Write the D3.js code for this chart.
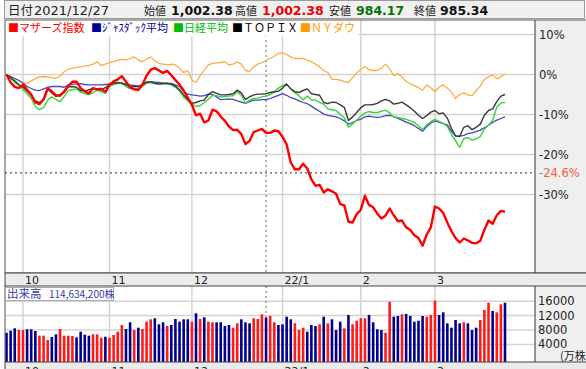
<!DOCTYPE html>
<html><head><meta charset="utf-8">
<script src="https://cdn.jsdelivr.net/npm/d3@7"></script>
<style>body{margin:0;background:#fff;}svg{display:block;}</style>
</head><body>
<script>
// ---- data (percent change from first day, trading-day index 0..121) ----
const monthTickIdx = [4, 25, 45, 67, 86, 104];
const monthLabels = ["10", "11", "12", "22/1", "2", "3"];
const cursorIdx = 63;            // 2021/12/27
const markLevel = -24.6;
const pctTicks = [10, 0, -10, -20, -30];
const volTicks = [4000, 8000, 12000, 16000];

const mothers = [0,-2.0,-3.1,-3.4,-2.6,-3.8,-5.0,-7.0,-7.4,-6.2,
 -3.5,-4.2,-5.2,-5.3,-4.2,-2.9,-1.8,-1.8,-3.4,-4.2,
 -4.7,-3.4,-3.7,-3.6,-4.3,-2.6,-1.7,-1.2,-0.4,-1.8,
 -3.2,-3.7,-3.9,-2.5,-0.3,1.2,1.6,1.0,0.4,0.9,
 -0.2,-1.4,-2.5,-4.0,-5.8,-7.6,-10.2,-9.8,-12.0,-11.5,
 -8.8,-9.2,-10.5,-11.6,-13.0,-13.9,-13.8,-14.9,-17.4,-16.6,
 -14.4,-14.0,-13.6,-14.6,-14.6,-14.0,-14.2,-15.6,-17.5,-22.0,
 -23.7,-23.7,-22.3,-23.5,-26.2,-27.8,-27.6,-29.5,-28.7,-29.2,
 -29.8,-32.4,-32.7,-36.8,-37.0,-34.9,-33.8,-30.3,-32.6,-33.2,
 -34.8,-36.0,-35.3,-33.5,-35.2,-36.7,-36.5,-38.2,-38.9,-40.2,
 -40.9,-42.8,-40.0,-38.2,-33.0,-33.5,-34.6,-37.0,-39.2,-40.9,
 -42.0,-41.0,-41.5,-42.1,-42.2,-41.6,-38.8,-36.5,-37.3,-35.2,
 -34.1,-34.3];
const jasdaq = [0,-0.5,-1.0,-1.5,-2.2,-3.0,-3.5,-3.9,-4.0,-3.6,
 -3.2,-3.0,-3.0,-3.0,-3.2,-2.6,-2.4,-2.4,-2.3,-2.5,
 -2.6,-2.6,-2.6,-2.6,-2.5,-2.4,-2.3,-2.2,-2.2,-2.4,
 -2.6,-2.7,-2.9,-2.5,-1.9,-1.8,-1.9,-2.0,-2.1,-2.2,
 -2.2,-2.6,-3.0,-4.3,-4.9,-5.1,-5.2,-5.4,-5.3,-4.9,
 -5.0,-5.6,-6.3,-6.2,-6.1,-6.2,-6.6,-6.9,-7.2,-6.8,
 -6.4,-6.4,-6.3,-6.3,-6.0,-5.6,-5.2,-4.8,-5.2,-5.8,
 -6.1,-6.6,-7.0,-7.3,-7.9,-8.6,-9.2,-9.9,-10.2,-10.4,
 -10.6,-11.0,-11.6,-12.4,-12.0,-11.5,-11.2,-10.6,-10.4,-10.6,
 -10.7,-10.6,-10.3,-10.2,-10.5,-11.0,-11.4,-11.9,-12.3,-12.8,
 -13.5,-14.2,-13.0,-12.2,-11.6,-12.0,-12.3,-12.6,-14.2,-15.3,
 -15.4,-15.2,-14.8,-14.6,-14.3,-13.9,-13.3,-12.7,-12.0,-11.4,
 -11.0,-10.6];
const nikkei = [0,-1.0,-2.0,-2.8,-3.8,-4.8,-6.0,-8.0,-8.8,-8.3,
 -6.4,-5.6,-6.2,-6.8,-5.5,-4.0,-3.8,-3.6,-4.4,-4.8,
 -5.0,-4.5,-3.9,-4.3,-4.7,-3.0,-2.5,-2.2,-2.3,-3.0,
 -3.5,-3.5,-3.5,-3.0,-2.2,-2.0,-2.3,-2.3,-2.2,-2.4,
 -2.6,-3.2,-4.1,-5.6,-6.6,-7.4,-8.0,-7.8,-7.0,-6.2,
 -5.2,-5.3,-5.6,-5.5,-5.4,-5.3,-4.3,-5.2,-7.2,-6.4,
 -6.0,-5.9,-5.6,-5.4,-5.0,-4.4,-3.4,-2.8,-2.4,-3.6,
 -4.6,-5.3,-6.4,-5.4,-6.3,-6.4,-7.0,-7.4,-8.6,-8.8,
 -9.0,-10.0,-10.8,-13.2,-12.4,-11.4,-10.4,-9.6,-9.3,-9.5,
 -9.5,-9.2,-8.9,-9.6,-10.6,-10.7,-11.0,-11.2,-11.6,-12.0,
 -12.8,-13.8,-12.6,-11.8,-11.2,-11.7,-12.2,-13.0,-15.0,-16.6,
 -18.2,-16.0,-15.8,-16.4,-16.1,-15.5,-13.6,-12.6,-11.5,-8.2,
 -7.1,-7.0];
const topix = [0,-0.8,-1.6,-2.5,-3.2,-4.2,-5.2,-6.6,-7.0,-6.4,
 -3.6,-4.6,-5.5,-5.0,-4.5,-3.1,-3.0,-3.2,-4.0,-4.2,
 -3.8,-3.5,-3.8,-3.8,-3.3,-2.5,-2.2,-2.0,-2.1,-2.6,
 -3.0,-3.0,-3.0,-2.6,-1.9,-1.8,-2.2,-2.4,-2.3,-2.2,
 -2.4,-2.9,-3.8,-5.1,-6.2,-7.2,-7.0,-6.6,-6.4,-5.0,
 -4.3,-4.7,-5.1,-5.1,-5.0,-4.8,-3.9,-4.6,-6.2,-5.6,
 -5.1,-4.9,-4.9,-4.8,-4.5,-4.3,-4.2,-3.4,-2.4,-3.6,
 -4.3,-4.5,-4.0,-3.6,-4.8,-5.0,-5.2,-7.0,-7.3,-6.9,
 -7.0,-7.6,-8.2,-11.5,-10.6,-9.5,-8.3,-7.6,-7.6,-7.5,
 -7.2,-6.6,-6.2,-6.6,-7.4,-7.2,-6.9,-7.6,-8.3,-9.2,
 -10.2,-11.0,-10.3,-9.4,-9.0,-9.8,-9.6,-10.9,-13.5,-15.4,
 -15.5,-13.2,-12.8,-13.8,-13.2,-12.4,-10.2,-9.0,-8.6,-6.8,
 -5.4,-5.0];
const nydow = [0,-0.6,-1.0,-1.5,-2.0,-2.2,-1.6,-1.1,-0.6,-0.5,
 -0.6,-0.8,-1.0,-0.4,0.7,1.3,1.6,1.8,1.9,2.1,
 2.3,2.6,3.2,2.2,2.6,3.0,3.2,3.6,3.8,3.6,
 4.0,4.4,3.6,3.2,3.8,4.4,3.4,2.8,2.6,2.4,
 2.6,2.4,1.6,0.5,1.0,-1.4,-2.0,-0.3,1.1,2.4,
 2.8,2.9,3.0,3.2,2.4,2.6,3.2,2.6,1.0,0.8,
 1.9,2.6,3.0,3.5,4.0,4.5,5.3,5.4,5.0,4.4,
 4.0,4.0,4.0,3.6,3.2,2.6,1.9,1.0,0.5,-1.2,
 -1.2,-1.4,-1.8,-2.0,-0.8,0.4,1.3,2.0,1.2,1.0,
 1.0,1.6,2.6,1.4,-0.3,0.2,-0.6,-1.7,-2.3,-2.8,
 -3.3,-3.9,-2.6,-3.3,-4.3,-3.2,-2.6,-3.4,-4.4,-6.0,
 -5.0,-4.6,-5.1,-5.3,-4.0,-2.9,-1.2,-0.6,-0.1,-1.1,
 -0.6,0.2];
// volume (万株) and candle direction (1 = up/red, 0 = down/blue)
const volume = [7250,7800,8470,8000,8000,8200,8200,7720,6420,6420,
 5220,6060,6810,8280,6420,6420,6330,5970,7530,6700,
 6420,6810,6810,5860,6140,5860,6610,7530,9390,8280,
 10140,8000,8640,8280,10310,10970,11250,9580,10140,9110,
 9390,11060,10310,10970,10970,10310,12640,11060,11530,10310,
 10140,10140,10140,9110,9390,8640,9860,10970,10140,9860,
 11250,11060,12360,11420,11890,10140,9390,9580,11700,10970,
 9860,8000,8640,7530,9390,9110,9580,11700,9860,10970,
 8000,10310,8470,12170,9580,10580,11250,11250,12170,10140,
 8200,8000,7250,15860,11700,11890,12360,12450,11890,10310,
 10580,11890,11700,12170,16140,12170,12920,9860,8640,10780,
 9860,10140,9860,8000,8640,10780,13560,15580,13280,12920,
 15140,15580];
const volUp = [0,0,0,1,1,0,0,0,1,1,
 1,0,0,1,1,1,1,0,0,0,
 0,1,1,1,0,1,1,1,1,0,
 0,1,0,1,1,1,0,0,0,1,
 0,0,0,0,0,1,0,1,0,1,
 1,0,0,0,0,1,1,0,0,0,
 1,1,1,0,1,1,0,0,0,0,
 1,1,1,0,0,0,1,0,1,0,
 0,0,1,0,1,1,1,1,0,0,
 0,0,1,1,0,0,1,0,0,0,
 0,0,1,1,1,0,0,0,0,0,
 0,1,0,0,0,1,1,1,0,1,
 1,0];

const seriesNames = ["マザーズ指数", "ｼﾞｬｽﾀﾞｯｸ平均", "日経平均", "ＴＯＰＩＸ", "ＮＹダウ"];
const seriesColors = ["#ff0000", "#000099", "#00bb00", "#000000", "#ff9900"];
const lineColors = ["#ff0000", "#4646c0", "#3ad23a", "#3a3a3a", "#ffab40"];

const header = {date: "2021/12/27", open: "1,002.38", high: "1,002.38", low: "984.17", close: "985.34"};
const volLabel = "114,634,200株";

// ---- drawing ----
const W = 586, H = 369;
const svg = d3.select("body").append("svg").attr("width", W).attr("height", H);
const CJK = "'Noto Sans CJK JP', sans-serif";
const NUM = "'DejaVu Sans', sans-serif";

const L = 5, R = 535, T = 20, B = 273, VT = 286, VB = 362;

const x = d3.scaleLinear().domain([0, 121]).range([6.5, 505]);
const y = d3.scaleLinear().domain([10, -30]).range([34.5, 194.5]);
const yv = d3.scaleLinear().domain([0, 16000]).range([358.8, 301.2]);

// header
svg.append("rect").attr("x", 4.5).attr("y", 0.5).attr("width", 580).attr("height", 18)
  .attr("fill", "#f0f0f0").attr("stroke", "#9a9a9a");
const ht = (tx, s, o) => svg.append("text").attr("x", tx).attr("y", 15).text(s)
  .attr("font-family", o.f).attr("font-size", o.s).attr("font-weight", o.b ? "bold" : "normal").attr("fill", o.c || "#222");
ht(8, "日付", {f: CJK, s: 12.5});
ht(34, header.date, {f: NUM, s: 13});
ht(144, "始値", {f: CJK, s: 11});
ht(171, header.open, {f: NUM, s: 12.5, b: 1, c: "#111"});
ht(235, "高値", {f: CJK, s: 11});
ht(262, header.high, {f: NUM, s: 12.5, b: 1, c: "#ee0000"});
ht(329, "安値", {f: CJK, s: 11});
ht(356, header.low, {f: NUM, s: 12.5, b: 1, c: "#0a700a"});
ht(414, "終値", {f: CJK, s: 11});
ht(440, header.close, {f: NUM, s: 12.5, b: 1, c: "#111"});

// panels backgrounds
svg.append("rect").attr("x", L).attr("y", T).attr("width", R - L).attr("height", B - T).attr("fill", "#fff");
svg.append("rect").attr("x", R).attr("y", T).attr("width", W - R).attr("height", B - T).attr("fill", "#efefef");
svg.append("rect").attr("x", R).attr("y", VT).attr("width", W - R).attr("height", VB - VT).attr("fill", "#efefef");

const grid = svg.append("g").attr("stroke", "#d4d4d4").attr("stroke-width", 1.5);
pctTicks.forEach(t => grid.append("line").attr("x1", L).attr("x2", R).attr("y1", y(t)).attr("y2", y(t)));
monthTickIdx.forEach(i => {
  grid.append("line").attr("x1", x(i)).attr("x2", x(i)).attr("y1", T).attr("y2", B);
  grid.append("line").attr("x1", x(i)).attr("x2", x(i)).attr("y1", VT).attr("y2", VB);
});
volTicks.forEach(t => grid.append("line").attr("x1", L).attr("x2", R).attr("y1", yv(t)).attr("y2", yv(t)));

// dotted reference lines
svg.append("line").attr("x1", L).attr("x2", R).attr("y1", y(markLevel)).attr("y2", y(markLevel))
  .attr("stroke", "#555").attr("stroke-dasharray", "2,3").attr("stroke-width", 1.2);
[[T, B], [VT, VB]].forEach(([a, b]) => svg.append("line").attr("x1", x(cursorIdx)).attr("x2", x(cursorIdx))
  .attr("y1", a).attr("y2", b).attr("stroke", "#666").attr("stroke-dasharray", "2,3").attr("stroke-width", 1));

// lines
const seriesData = [mothers, jasdaq, nikkei, topix, nydow];
const lineGen = d3.line().x((d, i) => x(i)).y(d => y(d));
const drawOrder = [4, 1, 2, 3, 0];
const widths = [2.4, 1.3, 1.4, 1.4, 1.3];
drawOrder.forEach(k => svg.append("path").datum(seriesData[k]).attr("d", lineGen)
  .attr("fill", "none").attr("stroke", lineColors[k]).attr("stroke-width", widths[k]).attr("stroke-linejoin", "round"));

// legend (white backing)
svg.append("rect").attr("x", L + 0.5).attr("y", T + 0.5).attr("width", 353).attr("height", 16).attr("fill", "#fff");
const legendX = [8, 91, 173, 232, 300];
seriesNames.forEach((n, k) => {
  svg.append("text").attr("x", legendX[k]).attr("y", 32).text("■" + n)
    .attr("font-family", CJK).attr("font-size", 11).attr("fill", seriesColors[k]);
});

// volume bars
svg.append("g").selectAll("rect").data(volume).join("rect")
  .attr("x", (d, i) => x(i) - 1.3).attr("width", 2.6)
  .attr("y", d => yv(d)).attr("height", d => VB - yv(d))
  .attr("fill", (d, i) => volUp[i] ? "#ff1a1a" : "#00008c");

// panel borders
svg.append("rect").attr("x", L).attr("y", T).attr("width", W - L + 2).attr("height", B - T)
  .attr("fill", "none").attr("stroke", "#555");
svg.append("line").attr("x1", R).attr("x2", R).attr("y1", T).attr("y2", B).attr("stroke", "#333");
svg.append("line").attr("x1", R).attr("x2", R).attr("y1", VT).attr("y2", VB).attr("stroke", "#333");
svg.append("line").attr("x1", L).attr("x2", L).attr("y1", VT).attr("y2", VB).attr("stroke", "#555");

// x-axis strips
svg.append("rect").attr("x", L).attr("y", B).attr("width", W - L + 2).attr("height", VT - B)
  .attr("fill", "#ebebeb").attr("stroke", "#444");
svg.append("rect").attr("x", L).attr("y", VB).attr("width", W - L + 2).attr("height", 10)
  .attr("fill", "#ebebeb").attr("stroke", "#444");
monthTickIdx.forEach((i, k) => {
  svg.append("text").attr("x", x(i) + 2).attr("y", 283.5).text(monthLabels[k])
    .attr("font-family", NUM).attr("font-size", 11).attr("fill", "#222");
  svg.append("text").attr("x", x(i) + 2).attr("y", 375).text(monthLabels[k])
    .attr("font-family", NUM).attr("font-size", 11).attr("fill", "#222");
});

// right axis labels
pctTicks.forEach(t => svg.append("text").attr("x", 539).attr("y", y(t)).attr("dy", "0.35em")
  .text(t + "%").attr("font-family", NUM).attr("font-size", 11.5).attr("fill", "#222"));
svg.append("text").attr("x", 539).attr("y", y(markLevel)).attr("dy", "0.35em").text(markLevel + "%")
  .attr("font-family", NUM).attr("font-size", 11.5).attr("fill", "#f0603c");
volTicks.forEach(t => svg.append("text").attr("x", 538).attr("y", yv(t)).attr("dy", "0.35em")
  .text(t).attr("font-family", NUM).attr("font-size", 11.5).attr("fill", "#222"));
svg.append("text").attr("x", 560).attr("y", 360).text("(万株")
  .attr("font-family", CJK).attr("font-size", 11).attr("fill", "#222");

// volume label box
svg.append("rect").attr("x", 5.5).attr("y", 287.5).attr("width", 108).attr("height", 13)
  .attr("fill", "#fff").attr("stroke", "#aab");
svg.append("text").attr("x", 7).attr("y", 298).text("出来高")
  .attr("font-family", CJK).attr("font-size", 11.5).attr("fill", "#3340a8");
svg.append("text").attr("x", 49).attr("y", 298).text(volLabel)
  .attr("font-family", CJK).attr("font-size", 10).attr("fill", "#3340a8");
</script>
</body></html>
